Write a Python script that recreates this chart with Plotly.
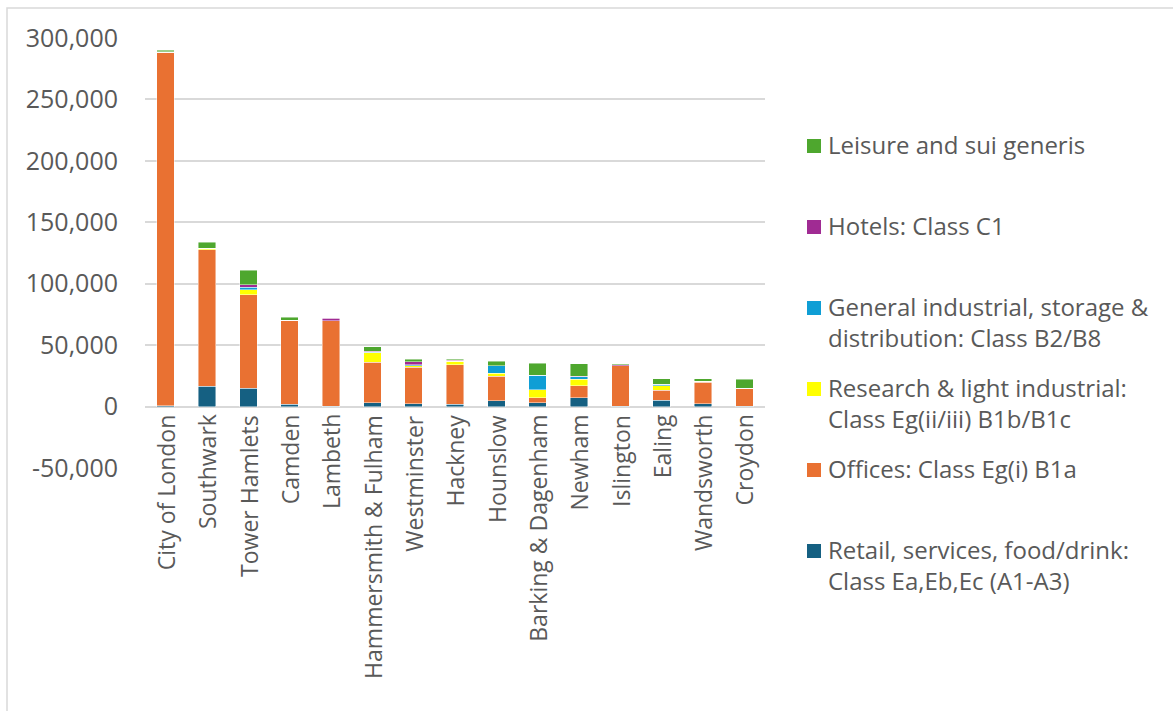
import plotly.graph_objects as go

boroughs = ["City of London", "Southwark", "Tower Hamlets", "Camden", "Lambeth",
            "Hammersmith & Fulham", "Westminster", "Hackney", "Hounslow",
            "Barking & Dagenham", "Newham", "Islington", "Ealing", "Wandsworth", "Croydon"]

retail = [500, 16500, 14900, 1900, 300, 3200, 2400, 1900, 4600, 3200, 7100, 400, 5100, 2200, 400]
offices = [288000, 111100, 76200, 68400, 69700, 32700, 29800, 32200, 20000, 4100, 10000, 33000, 8100, 17500, 14600]
research = [0, 1100, 3800, 0, 0, 7800, 1000, 2700, 2700, 6200, 5100, 0, 3800, 800, 0]
general_industrial = [0, 0, 2400, 0, 0, 700, 900, 0, 5900, 12200, 1900, 0, 1200, 0, 0]
hotels = [500, 0, 1900, 0, 1800, 700, 2200, 800, 0, 0, 700, 800, 0, 0, 0]
leisure = [1000, 4900, 11900, 2400, 600, 3500, 2400, 800, 3600, 9400, 10000, 800, 4600, 2200, 7300]

y_ticks = [-50000, 0, 50000, 100000, 150000, 200000, 250000, 300000]
y_tick_labels = [f"{v:,}" for v in y_ticks]

# stacking order, bottom to top
series = [
    ("Retail, services, food/drink:<br>Class Ea,Eb,Ec (A1-A3)", retail, "#156082"),
    ("Offices: Class Eg(i) B1a", offices, "#E97132"),
    ("Research & light industrial:<br>Class Eg(ii/iii) B1b/B1c", research, "#FFFF00"),
    ("General industrial, storage &<br>distribution: Class B2/B8", general_industrial, "#0F9ED5"),
    ("Hotels: Class C1", hotels, "#A02B93"),
    ("Leisure and sui generis", leisure, "#4EA72E"),
]

FONT = "Open Sans"
GREY = "#595959"

# plot-area geometry in pixels (used to place the legend key and frame)
L, R, T, B = 145, 765, 38, 468
W, H = R - L, B - T


def px_x(px):
    return (px - L) / W


def px_y(py):
    return (B - py) / H


fig = go.Figure()
for name, vals, col in series:
    fig.add_trace(go.Bar(
        x=boroughs, y=vals, name=name.replace("<br>", " "), showlegend=False,
        marker=dict(color=col, line=dict(color="rgba(255,255,255,0.6)", width=0.75)),
    ))

# category labels hang just below the zero line
for b in boroughs:
    fig.add_annotation(x=b, y=0, xref="x", yref="y", text=b, textangle=-90,
                       showarrow=False, xanchor="center", yanchor="top", yshift=-6,
                       font=dict(family=FONT, size=23, color=GREY))

# legend key: top entry is the last series in the stack
for k, (name, vals, col) in enumerate(reversed(series)):
    cy = 146 + 81 * k
    fig.add_shape(type="rect", xref="paper", yref="paper",
                  x0=px_x(807), x1=px_x(821), y0=px_y(cy + 7), y1=px_y(cy - 7),
                  line=dict(width=0), fillcolor=col)
    fig.add_annotation(x=px_x(826), y=px_y(cy - 20), xref="paper", yref="paper",
                       text=name, showarrow=False, xanchor="left", yanchor="top",
                       align="left", font=dict(family=FONT, size=24, color=GREY))

# outer chart frame
fig.add_shape(type="rect", xref="paper", yref="paper",
              x0=px_x(7), x1=px_x(1190), y0=px_y(730), y1=px_y(8),
              line=dict(color="#D9D9D9", width=1.5), fillcolor="rgba(0,0,0,0)", layer="below")

fig.update_layout(
    width=1173, height=711,
    margin=dict(l=L, r=1173 - R, t=T, b=711 - B),
    barmode="stack", bargap=0.58,
    paper_bgcolor="white", plot_bgcolor="white",
    font=dict(family=FONT, size=23, color=GREY),
    showlegend=False,
    xaxis=dict(showticklabels=False, showgrid=False, zeroline=False, showline=False),
    yaxis=dict(range=[-50000, 300000], tickvals=y_ticks, ticktext=y_tick_labels,
               showgrid=True, gridcolor="#D9D9D9", gridwidth=1.5,
               zeroline=True, zerolinecolor="#D9D9D9", zerolinewidth=1.5,
               ticklabelstandoff=26, tickfont=dict(family=FONT, size=25, color=GREY)),
)

fig.write_html("out.html")
